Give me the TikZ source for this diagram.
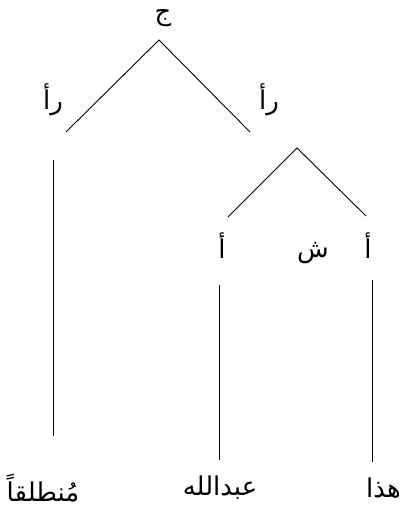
\documentclass[tikz,border=0pt]{standalone}
\usepackage{fontspec}
\newfontfamily\arabicfont[Script=Arabic]{DejaVu Sans}
\TeXXeTstate=1
\newcommand{\ar}[1]{{\arabicfont\beginR #1\endR}}
\begin{document}
\begin{tikzpicture}[x=1bp,y=-1bp,
  branch/.style={line width=0.9bp, black},
  lbl/.style={inner sep=0pt, font=\fontsize{26}{30}\selectfont},
  word/.style={inner sep=0pt, font=\fontsize{26}{30}\selectfont}]
\useasboundingbox (0,0) rectangle (399,510);

% labels
\node[lbl, text height=14bp, text depth=6bp] (root) at (163,17) {\ar{ج}};
\node[lbl] (vpL) at (53,100) {\ar{رأ}};
\node[lbl] (vpR) at (269,100) {\ar{رأ}};
\node[lbl] (aL) at (222,246) {\ar{أ}};
\node[lbl] (sh) at (313,253) {\ar{ش}};
\node[lbl] (aR) at (368,246) {\ar{أ}};
\node[word] (w1) at (43,488) {\ar{مُنطلقاً}};
\node[word] (w2) at (220,488) {\ar{عبدالله}};
\node[word, anchor=west] (w3) at (366,488) {\ar{هذا}};

% branch end points
\coordinate (t0) at (159,40);
\coordinate (t1) at (66,132);
\coordinate (t2) at (250,132);
\coordinate (s0) at (297,148);
\coordinate (s1) at (228,217);
\coordinate (s2) at (366,216);
\coordinate (v1a) at (53,160);
\coordinate (v1b) at (53,436);
\coordinate (v2a) at (219,285);
\coordinate (v2b) at (219,460);
\coordinate (v3a) at (372,280);
\coordinate (v3b) at (372,462);

\draw[branch] (t1) -- (t0) -- (t2);
\draw[branch] (s1) -- (s0) -- (s2);
\draw[branch] (v1a) -- (v1b);
\draw[branch] (v2a) -- (v2b);
\draw[branch] (v3a) -- (v3b);
\end{tikzpicture}
\end{document}
